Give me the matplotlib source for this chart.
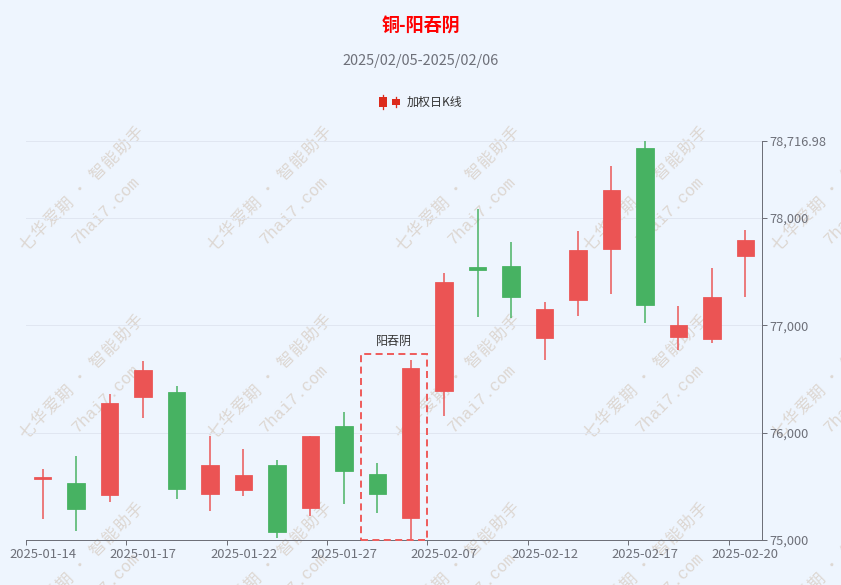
import matplotlib
matplotlib.use('Agg')
import matplotlib.pyplot as plt
from matplotlib.patches import Rectangle
from matplotlib.lines import Line2D
import numpy as np

# ---------------- data ----------------
dates = ['2025-01-14', '2025-01-15', '2025-01-16', '2025-01-17', '2025-01-20',
         '2025-01-21', '2025-01-22', '2025-01-23', '2025-01-24', '2025-01-27',
         '2025-02-05', '2025-02-06', '2025-02-07', '2025-02-10', '2025-02-11',
         '2025-02-12', '2025-02-13', '2025-02-14', '2025-02-17', '2025-02-18',
         '2025-02-19', '2025-02-20']
opens = [75565, 75528, 75422, 76335, 76379, 75426, 75469, 75702, 75301, 76059,
         75615, 75208, 76388, 77546, 77550, 76879, 77233, 77711, 78649, 76891,
         76872, 77646]
closes = [75585, 75286, 76276, 76584, 75475, 75699, 75605, 75072, 75969, 75646,
          75426, 76599, 77400, 77515, 77266, 77152, 77701, 78260, 77186, 77003,
          77264, 77795]
highs = [75661, 75782, 76360, 76665, 76432, 75969, 75848, 75745, 75972, 76192,
         75720, 76677, 77484, 78083, 77779, 77217, 77878, 78484, 78716.98, 77183,
         77531, 77891]
lows = [75196, 75087, 75357, 76134, 75379, 75270, 75413, 75021, 75226, 75338,
        75254, 75000, 76158, 77080, 77068, 76674, 77089, 77289, 77019, 76773,
        76832, 77261]
y_ticks = [75000, 76000, 77000, 78000, 78716.98]
pattern_dates = ['2025-02-05', '2025-02-06']
title = '铜-阳吞阴'
subtitle = '2025/02/05-2025/02/06'
series_name = '加权日K线'
pattern_label = '阳吞阴'
wm_left = '七华爱期'
wm_right = '智能助手'
wm_site = '7hai7.com'

# ---------------- style ----------------
BG = '#EEF5FE'
UP = '#EB5454'
DOWN = '#47B262'
AXIS = '#6E7079'
GRID = '#E0E6F1'
WM = '#DDD7D2'
W, H = 841, 585
PX = 72 / 100.0  # points per pixel

plt.rcParams['font.family'] = ['Noto Sans CJK SC', 'DejaVu Sans']

fig = plt.figure(figsize=(W / 100, H / 100), dpi=100, facecolor=BG)


def fx(x):
    return x / W


def fy(y):
    return 1 - y / H


# ---------------- watermark ----------------
wm_top = 115
ax_wm = fig.add_axes([0, 0, 1, fy(wm_top)], zorder=0)
ax_wm.set_xlim(0, W)
ax_wm.set_ylim(H, wm_top)
ax_wm.axis('off')
ax_wm.patch.set_alpha(0)
u = np.array([np.cos(np.pi / 4), -np.sin(np.pi / 4)])
n = np.array([np.sin(np.pi / 4), np.cos(np.pi / 4)])
step = 17.5
for i in range(0, 5):
    for j in range(0, 3):
        A = np.array([25 + 188 * i, 252 + 188 * j], dtype=float)
        items = []
        for k, ch in enumerate(wm_left):
            items.append((ch, k * step, 0, 'left', 'baseline', 16.5))
        items.append(('•', 4 * step + 14, -6, 'center', 'center', 11))
        for k, ch in enumerate(wm_right):
            items.append((ch, 4 * step + 30 + k * step, 0, 'left', 'baseline', 16.5))
        for txt, s, p, ha, va, sz in items:
            P = A + s * u + p * n
            if txt == '•':
                fam = ['DejaVu Sans']
            else:
                fam = ['Noto Sans CJK SC']
            ax_wm.text(P[0], P[1], txt, rotation=45, rotation_mode='anchor',
                       ha=ha, va=va, color=WM, fontsize=sz * PX, family=fam,
                       clip_on=True)
        B = A + np.array([53, -7])
        ax_wm.text(B[0], B[1], wm_site, rotation=45, rotation_mode='anchor',
                   ha='left', va='baseline', color=WM, fontsize=16.5 * PX,
                   family=['Liberation Mono'], clip_on=True)

# ---------------- main axes ----------------
ax = fig.add_axes([fx(26), fy(540), fx(762) - fx(26), fy(141) - fy(540)], zorder=1)
ax.set_facecolor('none')

x = np.arange(len(dates))
o = np.array(opens, dtype=float)
c = np.array(closes, dtype=float)
hi = np.array(highs, dtype=float)
lo = np.array(lows, dtype=float)
colors = [UP if cc >= oo else DOWN for oo, cc in zip(o, c)]

ax.vlines(x, lo, hi, colors=colors, linewidth=1.5 * PX, zorder=3)
ax.bar(x, np.maximum(np.abs(c - o), 8), bottom=np.minimum(o, c), width=0.52,
       color=colors, edgecolor=colors, linewidth=0.8 * PX, zorder=4)

ymin, ymax = min(y_ticks), max(y_ticks)
ax.set_xlim(-0.5, len(dates) - 0.5)
ax.set_ylim(ymin, ymax)

# pattern highlight box
idx = [dates.index(d) for d in pattern_dates]
box_top = max(hi[idx]) + 55
box = Rectangle((min(idx) - 0.5, ymin), max(idx) - min(idx) + 1, box_top - ymin,
                fill=False, edgecolor='#EE5F5F', linewidth=2 * PX,
                linestyle=(0, (3.5, 2.2)), zorder=6, clip_on=False)
ax.add_patch(box)
ax.annotate(pattern_label, xy=((min(idx) + max(idx)) / 2, box_top),
            xytext=(0, 13 * PX), textcoords='offset points', ha='center',
            va='center', fontsize=12 * PX, color='#333333', zorder=7)

# axes styling
for s in ['top', 'left']:
    ax.spines[s].set_visible(False)
for s in ['right', 'bottom']:
    ax.spines[s].set_color(AXIS)
    ax.spines[s].set_linewidth(1 * PX)

ax.yaxis.tick_right()
ax.set_yticks(y_ticks)
ax.set_yticklabels([f'{v:,.2f}' if v != int(v) else f'{int(v):,}' for v in y_ticks])
ax.tick_params(axis='y', length=5 * PX, width=1 * PX, color=AXIS,
               labelcolor=AXIS, labelsize=12.8 * PX, pad=2.5 * PX)
ax.grid(axis='y', color=GRID, linewidth=1 * PX, zorder=0)
ax.set_axisbelow(True)

label_idx = list(range(0, len(dates), 3))
ax.set_xticks([k - 0.5 for k in label_idx])
ax.set_xticklabels([])
ax.set_xticks(label_idx, minor=True)
ax.set_xticklabels([dates[k] for k in label_idx], minor=True)
ax.tick_params(axis='x', which='major', length=5 * PX, width=1 * PX, color=AXIS)
ax.tick_params(axis='x', which='minor', length=0, labelcolor=AXIS,
               labelsize=13 * PX, pad=7.5 * PX)

# ---------------- titles & legend ----------------
fig.text(0.5, fy(27), title, ha='center', va='center', fontsize=18 * PX,
         fontweight='bold', color='#FF0000')
fig.text(0.5, fy(61.5), subtitle, ha='center', va='center', fontsize=14.5 * PX,
         color=AXIS)

LEG = '#DC2A1C'
ly = 102
# big candle icon
fig.add_artist(Line2D([fx(382.5), fx(382.5)], [fy(ly - 7), fy(ly + 7)],
                      color=LEG, linewidth=1.3 * PX))
fig.add_artist(Rectangle((fx(378.5), fy(ly + 5)), fx(8), 10 / H,
                         facecolor=LEG, edgecolor='none'))
# small candle icon
fig.add_artist(Line2D([fx(395.5), fx(395.5)], [fy(ly - 5), fy(ly + 5)],
                      color=LEG, linewidth=1.3 * PX))
fig.add_artist(Rectangle((fx(391.5), fy(ly + 3)), fx(8), 6 / H,
                         facecolor=LEG, edgecolor='none'))
fig.text(fx(407), fy(ly), series_name, ha='left', va='center',
         fontsize=12 * PX, color='#333333')

fig.savefig('out.png', dpi=100, facecolor=BG)
